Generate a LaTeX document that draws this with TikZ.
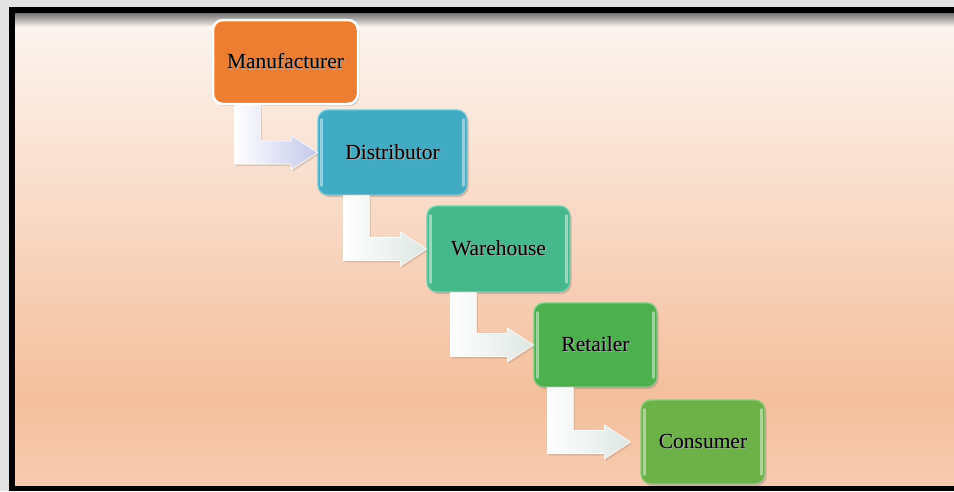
\documentclass[tikz,border=0pt]{standalone}
\usepackage{fontspec}
\setmainfont{Liberation Serif}
\usetikzlibrary{calc,shadows}
\definecolor{bgtop}{HTML}{FDF6F2}
\definecolor{bgmid}{HTML}{F4BF9C}
\definecolor{bgbot}{HTML}{F7CBB0}
\definecolor{cman}{HTML}{ED7D31}
\definecolor{cdis}{HTML}{40ABC3}
\definecolor{cwar}{HTML}{45B98B}
\definecolor{cret}{HTML}{4CB04F}
\definecolor{ccon}{HTML}{6DB249}
\definecolor{arrA}{HTML}{C3C8EA}
\definecolor{arrB}{HTML}{DDE6E2}
\tikzset{
  box/.style={rounded corners=10pt, draw=#1!70!white, line width=1.2pt, fill=#1,
     drop shadow={shadow xshift=1.5pt, shadow yshift=-2pt, opacity=0.35},
     font=\fontsize{21.5}{24}\selectfont, text=black, inner sep=0pt},
  gloss/.style={line width=2.5pt, line cap=round, draw=white, opacity=0.45},
  arrowfill/.style={left color=white, right color=#1, draw=white, line width=0.6pt,
     drop shadow={shadow xshift=1.5pt, shadow yshift=-2pt, opacity=0.25}}
}
\newcommand\shtext[1]{\makebox[0pt][l]{\raisebox{-1.2pt}{\hspace{1.2pt}\textcolor{black!35}{#1}}}#1}
% #1 tip shift, #2 colour, #3 from node, #4 to node
\newcommand\bentarrow[4][0pt]{%
  \path[arrowfill=#2] let \p1=($(#4.west)+(#1,0)$), \p2=(#3.south) in
   (\x1-83pt,\y2) -- (\x1-57pt,\y2) -- (\x1-57pt,\y1+11.5pt) -- (\x1-26pt,\y1+11.5pt)
   -- (\x1-26pt,\y1+17pt) -- (\x1,\y1) -- (\x1-26pt,\y1-17pt) -- (\x1-26pt,\y1-11.5pt)
   -- (\x1-83pt,\y1-11.5pt) -- cycle;}
\newcommand\glossy[1]{%
  \draw[gloss] ([xshift=4pt,yshift=-10pt]#1.north west) -- ([xshift=4pt,yshift=10pt]#1.south west);
  \draw[gloss] ([xshift=-4pt,yshift=-10pt]#1.north east) -- ([xshift=-4pt,yshift=10pt]#1.south east);}
\begin{document}
\begin{tikzpicture}[x=1pt,y=-1pt]
\useasboundingbox (0,0) rectangle (954,491);
% outer area and frame
\fill[gray!22] (0,0) rectangle (954,491);
\fill[black] (9,7) rectangle (954,491);
\shade[top color=bgtop, bottom color=bgmid] (15,13) rectangle (954,400);
\shade[top color=bgmid, bottom color=bgbot] (15,400) rectangle (954,485.5);
\shade[top color=black!55, bottom color=bgtop] (15,13) rectangle (954,27);
% boxes
\node[box=cman, draw=white, line width=2.5pt, minimum width=145pt, minimum height=84pt] (man) at (285.5,62) {\shtext{Manufacturer}};
\node[box=cdis, minimum width=149pt, minimum height=85pt] (dis) at (392.5,152.5) {\shtext{Distributor}};
\node[box=cwar, minimum width=143pt, minimum height=86pt] (war) at (498.5,249) {\shtext{Warehouse}};
\node[box=cret, minimum width=123pt, minimum height=84pt] (ret) at (595.5,345) {\shtext{Retailer}};
\node[box=ccon, minimum width=124pt, minimum height=84pt] (con) at (703,442) {\shtext{Consumer}};
\glossy{dis}\glossy{war}\glossy{ret}\glossy{con}
% bent arrows
\bentarrow{arrA}{man}{dis}
\bentarrow{arrB}{dis}{war}
\bentarrow{arrB}{war}{ret}
\bentarrow[-10pt]{arrB}{ret}{con}
\end{tikzpicture}
\end{document}
